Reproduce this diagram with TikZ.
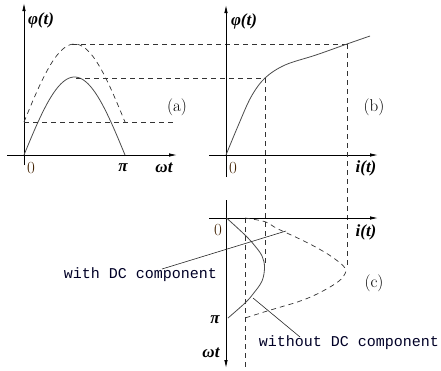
\documentclass[tikz,border=0pt]{standalone}
\usepackage{fontspec}
\newfontfamily\lserif{Liberation Serif}
\newfontfamily\lmono{Liberation Mono}
\usetikzlibrary{arrows.meta}
\tikzset{
  axis/.style={line width=0.8pt, -{Latex[length=8pt,width=3.5pt]}},
  curve/.style={line width=0.8pt, draw=black!70},
  guide/.style={line width=0.7pt, draw=black!80, dash pattern=on 5pt off 4pt},
  varlab/.style={inner sep=0pt, font=\fontsize{17}{17}\selectfont\lserif\bfseries\itshape},
  numlab/.style={inner sep=0pt, font=\fontsize{17}{17}\selectfont, text=black!75!orange},
  panlab/.style={inner sep=0pt, font=\fontsize{17}{17}\selectfont, text=black},
  note/.style={inner sep=0pt, font=\fontsize{15}{15}\selectfont\lmono, text=black!85!blue},
  leader/.style={line width=0.6pt, draw=black!85}
}
\begin{document}
\begin{tikzpicture}[x=1pt,y=-1pt]
\useasboundingbox (0,0) rectangle (441,370);
% ---------------- panel (a)
\draw[axis] (24,165) -- (24,3);
\draw[axis] (7,155) -- (177,155);
\draw[curve] plot[domain=0:180,samples=61] ({24+0.561111*\x},{155-78*sin(\x)});
\draw[guide] plot[domain=0:180,samples=61] ({24+0.561111*\x},{122-78*sin(\x)});
\draw[guide] (72,44) -- (347,44);
\draw[guide] (76,78) -- (265,78);
\draw[guide] (24,122) -- (176,122);
\node[varlab] (phia) at (41,20) {φ(t)};
\node[numlab] (zeroa) at (31,168) {0};
\node[varlab] (pia) at (123,168) {π};
\node[varlab] (wta) at (164,168) {ωt};
\node[panlab] (laba) at (177,107) {(a)};
% ---------------- panel (b)
\draw[axis] (226,177) -- (226,5);
\draw[axis] (209,155) -- (378,155);
\draw[curve] plot[smooth,tension=0.55] coordinates {(226,155) (238,126) (251,97) (265,78) (285,65) (316,55) (347,44) (370,36)};
\draw[guide] (265,78) -- (265,266);
\draw[guide] (347,44) -- (347,268);
\draw[guide] (245,218) -- (245,370);
\node[varlab] (phib) at (244,21) {φ(t)};
\node[numlab] (zerob) at (233,168) {0};
\node[varlab] (ib) at (366,168) {i(t)};
\node[panlab] (labb) at (374,107) {(b)};
% ---------------- panel (c)
\draw[axis] (226,200) -- (226,368);
\draw[axis] (209,218) -- (378,218);
\draw[curve] plot[smooth,tension=0.6] coordinates {(226.5,218) (245,235) (255,246) (262,256) (264.5,267) (262,281) (253,294) (245,303) (228,318)};
\draw[guide] plot[smooth,tension=0.6] coordinates {(245,218) (265,221.7) (276.7,228.3) (298.3,238.3) (315,246.7) (331.7,256.7) (345,268) (343.3,276.7) (333.3,285) (315,295) (298.3,301.7) (281.7,306.7) (265,311.7) (245,318)};
\node[numlab] (zeroc) at (218,230) {0};
\node[varlab] (ic) at (366,232) {i(t)};
\node[panlab] (labc) at (374,283) {(c)};
\node[varlab] (pic) at (215,320) {π};
\node[varlab] (wtc) at (211,353) {ωt};
% ---------------- annotations
\node[note] (withdc) at (140.5,275) {with DC component};
\node[note] (withoutdc) at (349,343) {without DC component};
\coordinate (wA) at (162,269);
\coordinate (wB) at (286,231);
\coordinate (woA) at (253,298);
\coordinate (woB) at (300,337);
\draw[leader] (wA) -- (wB);
\draw[leader] (woA) -- (woB);
\end{tikzpicture}
\end{document}
